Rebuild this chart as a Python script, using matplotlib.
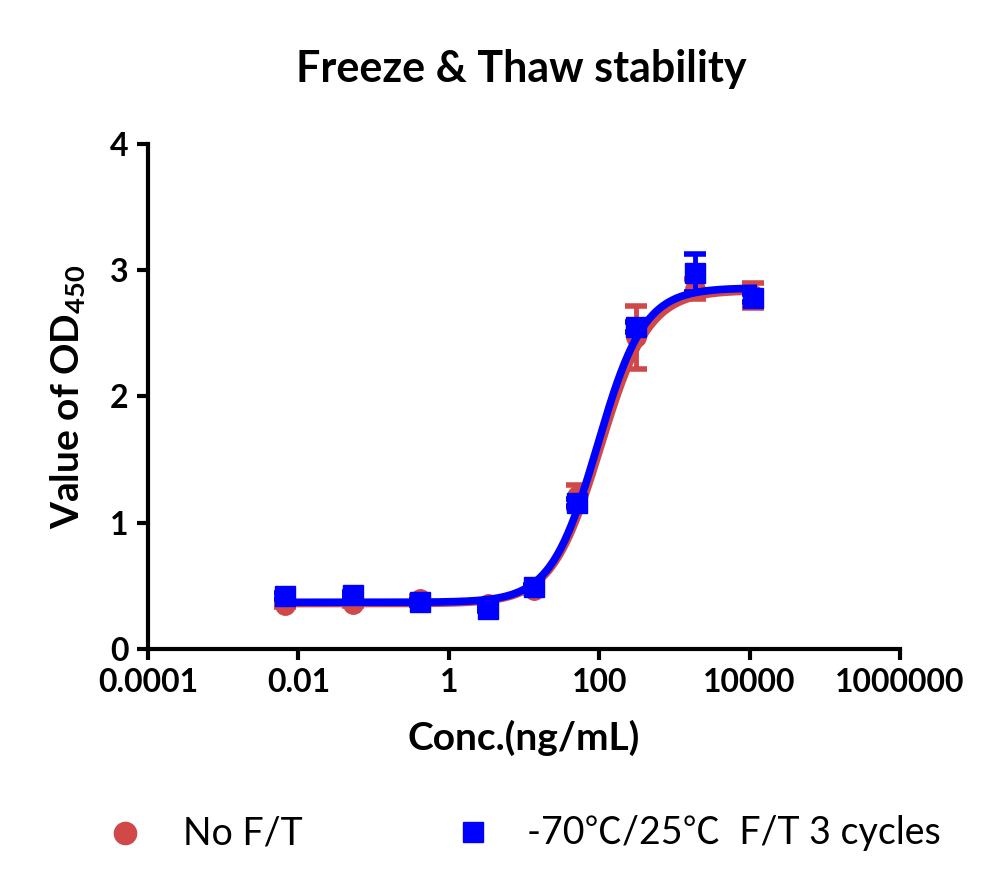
import numpy as np
import matplotlib
matplotlib.use("Agg")
import matplotlib.pyplot as plt
from matplotlib.lines import Line2D

plt.rcParams['font.family'] = ['Lato', 'Noto Sans CJK SC', 'DejaVu Sans']
plt.rcParams['mathtext.fontset'] = 'custom'
plt.rcParams['mathtext.rm'] = 'Lato:bold'
plt.rcParams['mathtext.bf'] = 'Lato:bold'

# Konzentrationen (ng/mL)
conc = [0.0067, 0.053, 0.42, 3.3, 13.4, 51, 312, 1900, 11200]

# No F/T
od_noft = [0.35, 0.36, 0.40, 0.36, 0.47, 1.21, 2.47, 2.85, 2.80]
err_noft = [0.02, 0.02, 0.02, 0.02, 0.03, 0.09, 0.25, 0.08, 0.10]

# -70/25 F/T 3 cycles
od_ft = [0.42, 0.43, 0.37, 0.32, 0.49, 1.16, 2.55, 2.98, 2.78]
err_ft = [0.02, 0.02, 0.02, 0.02, 0.02, 0.03, 0.04, 0.15, 0.03]

# 4PL-Parameter (bottom, top, EC50, hill)
fit_noft = (0.36, 2.84, 104.0, 1.35)
fit_ft = (0.37, 2.86, 95.0, 1.40)

labels = ["No F/T", "-70\u2103/25\u2103  F/T 3 cycles"]

RED = "#D04848"
BLUE = "#0000FF"


def fourpl(x, p):
    b, t, ec, h = p
    return b + (t - b) / (1 + (ec / x) ** h)


fig = plt.figure(figsize=(10, 8.92), dpi=100)
ax = fig.add_axes([0.148, 0.2724, 0.752, 0.5662])

xs = np.logspace(np.log10(conc[0]), np.log10(conc[-1]), 400)

ax.errorbar(conc, od_noft, yerr=err_noft, fmt="o", color=RED, ms=14,
            elinewidth=3.5, capsize=8, capthick=4, zorder=2)
ax.plot(xs, fourpl(xs, fit_noft), color=RED, lw=5.5, zorder=3)
ax.errorbar(conc, od_ft, yerr=err_ft, fmt="s", color=BLUE, ms=14,
            elinewidth=3.5, capsize=8, capthick=4, zorder=4)
ax.plot(xs, fourpl(xs, fit_ft), color=BLUE, lw=5.5, zorder=5)

ax.set_xscale("log")
ax.set_xlim(1e-4, 1e6)
ax.set_ylim(0, 4)
ax.set_xticks([1e-4, 1e-2, 1, 1e2, 1e4, 1e6])
ax.set_xticklabels(["0.0001", "0.01", "1", "100", "10000", "1000000"])
ax.xaxis.set_minor_locator(matplotlib.ticker.NullLocator())
ax.set_yticks([0, 1, 2, 3, 4])

for s in ["top", "right"]:
    ax.spines[s].set_visible(False)
for s in ["left", "bottom"]:
    ax.spines[s].set_linewidth(3)
ax.tick_params(width=3, length=8, labelsize=23, pad=6)
for lab in ax.get_xticklabels() + ax.get_yticklabels():
    lab.set_fontweight("bold")

ax.set_xlabel("Conc.(ng/mL)", fontsize=28, fontweight="bold", labelpad=16)
ax.set_ylabel("Value of OD$_{\\mathbf{450}}$", fontsize=28, fontweight="bold", labelpad=16)
fig.text(0.521, 0.923, "Freeze & Thaw stability", ha="center", va="center",
         fontsize=31, fontweight="bold")

# Legende unten, manuell platziert
fig.add_artist(Line2D([0.125], [0.066], ls="none", marker="o", color=RED, ms=16,
                      transform=fig.transFigure))
fig.add_artist(Line2D([0.473], [0.067], ls="none", marker="s", color=BLUE, ms=15,
                      transform=fig.transFigure))
fig.text(0.183, 0.066, labels[0], ha="left", va="center", fontsize=27)
fig.text(0.527, 0.066, labels[1], ha="left", va="center", fontsize=27)

fig.savefig("out.png", dpi=100)
